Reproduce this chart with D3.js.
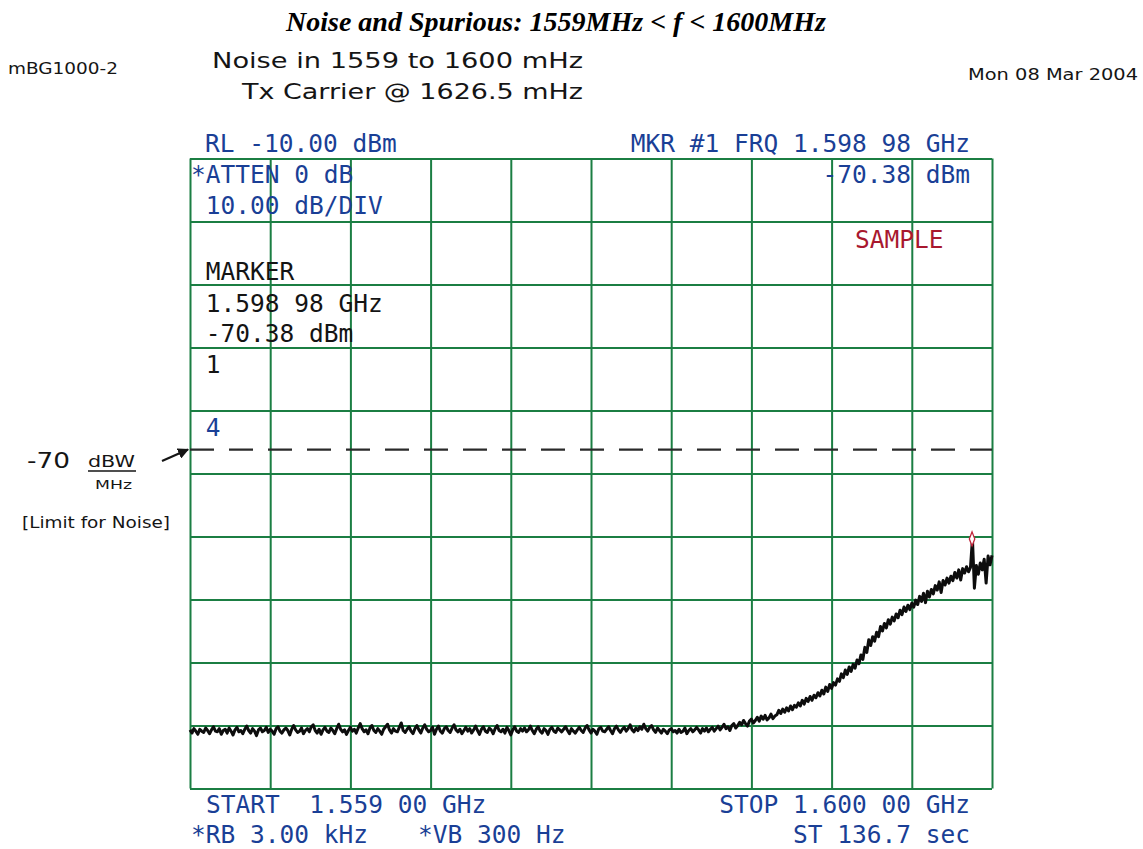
<!DOCTYPE html>
<html>
<head>
<meta charset="utf-8">
<script src="https://cdn.jsdelivr.net/npm/d3@7"></script>
<style>
  body { margin: 0; background: #fff; }
  svg text { white-space: pre; }
  .crt { font-family: "DejaVu Sans Mono", monospace; font-size: 24.5px; }
  .hand { font-family: "DejaVu Sans", sans-serif; fill: #151515; }
</style>
</head>
<body>
<svg id="chart"></svg>
<script>
// Sweep settings
const startMHz = 1559;
const stopMHz = 1600;
const refLevel = -10;
const dbPerDiv = 10;
const divisions = 10;

// Trace (dBm), one value every 0.1 MHz from start to stop
const traceDbm = [
  -100.7,-101.2,-100.5,-100.9,-101.4,-100.6,-100.9,-101.1,-100.4,-100.8,
  -101.3,-100.7,-100.2,-100.9,-101.0,-100.5,-101.4,-100.8,-100.6,-101.2,
  -100.4,-100.9,-101.5,-100.7,-100.3,-101.0,-100.8,-101.3,-100.6,-100.1,
  -100.8,-101.2,-100.5,-100.9,-101.6,-100.7,-100.4,-101.0,-100.8,-100.3,
  -101.1,-100.6,-100.9,-101.4,-100.5,-100.2,-100.9,-101.2,-100.7,-100.4,
  -100.8,-101.5,-100.6,-100.0,-100.7,-101.1,-100.9,-100.4,-101.3,-100.8,
  -100.5,-101.0,-100.2,-99.9,-100.8,-101.2,-100.6,-101.4,-100.7,-100.3,
  -100.9,-101.1,-100.4,-100.8,-101.3,-100.5,-99.8,-100.6,-101.0,-100.7,
  -101.4,-100.8,-100.3,-100.9,-100.6,-101.2,-100.4,-99.7,-100.5,-101.0,
  -100.7,-101.3,-100.4,-100.0,-100.8,-101.1,-100.5,-100.9,-101.4,-100.6,
  -100.2,-99.8,-100.7,-101.2,-100.5,-100.9,-101.0,-100.3,-99.6,-100.8,
  -101.1,-100.6,-100.2,-100.9,-101.3,-100.5,-100.0,-100.7,-101.2,-100.4,
  -99.9,-100.6,-101.0,-100.8,-100.3,-101.4,-100.6,-100.1,-100.9,-101.2,
  -100.5,-100.2,-100.8,-101.1,-100.4,-99.9,-100.7,-101.0,-100.6,-101.3,
  -100.8,-100.3,-100.9,-100.5,-101.2,-100.7,-100.1,-100.8,-101.4,-100.6,
  -100.2,-100.9,-101.1,-100.4,-100.7,-101.3,-100.5,-100.0,-100.8,-101.0,
  -100.6,-101.2,-100.3,-100.8,-101.5,-100.7,-100.2,-100.9,-101.1,-100.5,
  -100.9,-100.4,-101.0,-100.7,-100.1,-100.8,-101.3,-100.6,-100.2,-100.9,
  -101.2,-100.5,-100.8,-101.4,-100.6,-100.3,-100.9,-101.1,-100.4,-100.7,
  -101.0,-100.6,-100.2,-100.8,-101.3,-100.5,-100.9,-101.2,-100.7,-100.3,
  -100.8,-101.1,-100.4,-100.0,-100.7,-101.2,-100.6,-100.9,-101.4,-100.5,
  -100.3,-100.9,-101.0,-100.6,-100.2,-100.8,-101.3,-100.5,-100.1,-100.7,
  -101.1,-100.6,-100.3,-100.9,-100.5,-99.9,-100.7,-101.0,-100.4,-100.8,
  -100.2,-100.6,-99.8,-100.5,-100.9,-100.3,-100.0,-100.7,-101.1,-100.4,
  -100.8,-101.2,-100.6,-100.9,-101.3,-100.7,-100.5,-101.0,-100.8,-101.2,
  -100.6,-101.1,-100.9,-100.4,-101.3,-100.8,-100.5,-101.0,-100.7,-100.3,
  -100.7,-101.2,-100.5,-100.9,-100.4,-101.0,-100.6,-100.3,-100.9,-100.5,
  -100.1,-100.7,-100.3,-99.8,-100.5,-100.2,-100.8,-100.0,-99.7,-100.4,
  -100.0,-99.5,-99.9,-99.2,-99.7,-100.1,-99.3,-99.0,-99.6,-99.2,
  -98.7,-99.3,-98.5,-99.0,-98.4,-99.1,-98.8,-98.2,-98.9,-98.5,
  -98.3,-97.6,-98.1,-97.4,-97.9,-97.2,-97.7,-96.9,-97.5,-96.8,
  -97.1,-96.4,-96.9,-96.0,-96.6,-95.7,-96.2,-95.4,-96.0,-95.2,
  -95.6,-94.8,-95.3,-94.4,-95.0,-93.9,-94.6,-93.5,-94.1,-93.2,
  -93.6,-92.6,-93.0,-91.8,-92.4,-91.2,-91.9,-90.7,-91.4,-90.3,
  -90.9,-89.6,-90.2,-88.8,-89.5,-87.6,-88.4,-86.4,-87.3,-85.9,
  -86.6,-85.2,-85.9,-84.3,-85.0,-83.8,-84.5,-83.2,-83.9,-82.8,
  -83.4,-82.3,-82.9,-81.7,-82.4,-81.2,-81.9,-80.9,-81.6,-80.6,
  -81.2,-80.1,-80.8,-79.5,-80.3,-79.0,-80.5,-78.7,-79.6,-78.4,
  -79.1,-77.8,-78.5,-77.2,-78.9,-77.0,-77.7,-76.6,-77.4,-76.3,
  -77.0,-75.7,-76.6,-75.3,-76.9,-75.1,-75.8,-74.8,-75.6,-74.9,
  -70.4,-78.2,-74.6,-76.0,-74.2,-75.3,-73.6,-77.4,-73.1,-74.5,-73.0
];

const markerMHz = 1598.98;
const markerDbm = -70.38;
const limitDbm = -56.2;

// Screen annotations
const headerLeft = ["RL -10.00 dBm"];
const headerRight = ["MKR #1 FRQ 1.598 98 GHz"];
const markerReadout = ["-70.38 dBm"];
const panelBlue = ["*ATTEN 0 dB", " 10.00 dB/DIV"];
const panelBlack = [" MARKER", " 1.598 98 GHz", " -70.38 dBm", " 1"];
const footerLeft = ["START  1.559 00 GHz", "*RB 3.00 kHz"];
const footerMid = ["*VB 300 Hz"];
const footerRight = ["STOP 1.600 00 GHz", "ST 136.7 sec"];

const W = 1143, H = 849;
const plot = { left: 190, right: 992, top: 158.5, bottom: 788.5 };
const blue = "#1a3f96";
const gridColor = "#1b7e43";

const svg = d3.select("#chart").attr("width", W).attr("height", H);

const x = d3.scaleLinear().domain([startMHz, stopMHz]).range([plot.left, plot.right]);
const y = d3.scaleLinear()
  .domain([refLevel - dbPerDiv * divisions, refLevel])
  .range([plot.bottom, plot.top]);

// Title
svg.append("text")
  .attr("x", 556).attr("y", 31)
  .attr("text-anchor", "middle")
  .style("font-family", "'Liberation Serif', serif")
  .style("font-weight", "bold").style("font-style", "italic")
  .style("font-size", "28px")
  .text("Noise and Spurious: 1559MHz < f < 1600MHz");

// Handwritten notes
const hand = (txt, tx, ty, size, len) => svg.append("text")
  .attr("class", "hand").attr("x", tx).attr("y", ty)
  .attr("textLength", len).attr("lengthAdjust", "spacingAndGlyphs")
  .style("font-size", size + "px").text(txt);

hand("mBG1000-2", 8, 74, 15, 110);
hand("Noise in 1559 to 1600 mHz", 212, 68, 22, 371);
hand("Tx Carrier @ 1626.5 mHz", 242, 99, 21, 341);
hand("Mon 08 Mar 2004", 968, 80, 15, 170);
hand("-70", 27, 468, 21, 43);
hand("dBW", 88, 467, 16, 47);
hand("MHz", 95, 489, 13, 37);
hand("[Limit for Noise]", 22, 528, 16, 148);

svg.append("line")
  .attr("x1", 88).attr("x2", 136).attr("y1", 471).attr("y2", 471)
  .attr("stroke", "#151515").attr("stroke-width", 1.6);

svg.append("defs").append("marker")
  .attr("id", "arrow").attr("viewBox", "0 0 10 10")
  .attr("refX", 9).attr("refY", 5)
  .attr("markerWidth", 5).attr("markerHeight", 5)
  .attr("orient", "auto")
  .append("path").attr("d", "M0,0L10,5L0,10z").attr("fill", "#151515");

svg.append("line")
  .attr("x1", 162).attr("y1", 461).attr("x2", 188).attr("y2", y(limitDbm))
  .attr("stroke", "#151515").attr("stroke-width", 2.2)
  .attr("marker-end", "url(#arrow)");

// Graticule
const xGrid = d3.range(divisions + 1).map(i => startMHz + i * (stopMHz - startMHz) / divisions);
const yGrid = d3.range(divisions + 1).map(i => refLevel - i * dbPerDiv);

const gx = svg.append("g")
  .attr("transform", `translate(0,${plot.bottom})`)
  .call(d3.axisBottom(x).tickValues(xGrid).tickSize(-(plot.bottom - plot.top)).tickFormat(""));
const gy = svg.append("g")
  .attr("transform", `translate(${plot.left},0)`)
  .call(d3.axisLeft(y).tickValues(yGrid).tickSize(-(plot.right - plot.left)).tickFormat(""));
[gx, gy].forEach(g => {
  g.select(".domain").remove();
  g.selectAll(".tick line").attr("stroke", gridColor).attr("stroke-width", 2);
});

// Limit line
svg.append("line")
  .attr("x1", plot.left).attr("x2", plot.right)
  .attr("y1", y(limitDbm)).attr("y2", y(limitDbm))
  .attr("stroke", "#2a2a2a").attr("stroke-width", 2.2)
  .attr("stroke-dasharray", "24,15");

// Trace
const step = (stopMHz - startMHz) / (traceDbm.length - 1);
svg.append("path")
  .datum(traceDbm)
  .attr("fill", "none")
  .attr("stroke", "#0d0d0d")
  .attr("stroke-width", 3)
  .attr("stroke-linejoin", "round")
  .attr("d", d3.line().x((d, i) => x(startMHz + i * step)).y(d => y(d)));

// Marker diamond
svg.append("path")
  .attr("transform", `translate(${x(markerMHz)},${y(markerDbm)}) scale(0.8,1.2)`)
  .attr("d", d3.symbol(d3.symbolDiamond, 40)())
  .attr("fill", "#fff").attr("stroke", "#c0243a").attr("stroke-width", 1.5);

// Screen text
const crt = (txt, tx, ty, color, anchor = "start") => svg.append("text")
  .attr("class", "crt").attr("x", tx).attr("y", ty)
  .attr("text-anchor", anchor).attr("fill", color).text(txt);

crt(headerLeft[0], 205, 152, blue);
crt(headerRight[0], 970, 152, blue, "end");
crt(markerReadout[0], 970, 183, blue, "end");
panelBlue.forEach((t, i) => crt(t, 191, 183 + i * 31, blue));
crt("SAMPLE", 855, 248, "#a8182e");
panelBlack.forEach((t, i) => crt(t, 191, [280, 312, 342, 373][i], "#141414"));
crt(" 4", 191, 436, blue);
footerLeft.forEach((t, i) => crt(t, i === 0 ? 206 : 191, 813 + i * 30, blue));
crt(footerMid[0], 418, 843, blue);
footerRight.forEach((t, i) => crt(t, 970, 813 + i * 30, blue, "end"));
</script>
</body>
</html>
